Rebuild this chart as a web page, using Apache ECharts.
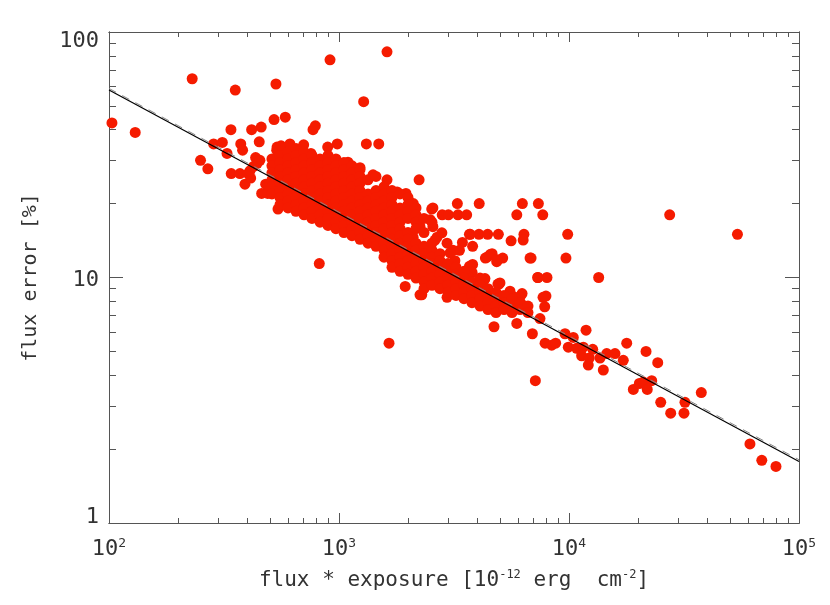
<!DOCTYPE html>
<html>
<head>
<meta charset="utf-8">
<title>flux error</title>
<script src="https://cdn.jsdelivr.net/npm/echarts@6/dist/echarts.min.js"></script>
<style>
    html, body {margin: 0; padding: 0; background: #fff;}
    #chartDiv {width: 830px; height: 605px;}
</style>
</head>
<body>
<div id="chartDiv"></div>
<script>
// 刻度
var xTickValues = [100, 1000, 10000, 100000];
var xMinorValues = [200, 300, 400, 500, 600, 700, 800, 900,
    2000, 3000, 4000, 5000, 6000, 7000, 8000, 9000,
    20000, 30000, 40000, 50000, 60000, 70000, 80000, 90000];
var yTickValues = [1, 10, 100];
var yMinorValues = [2, 3, 4, 5, 6, 7, 8, 9, 20, 30, 40, 50, 60, 70, 80, 90];

// 拟合线 (flux*exposure, flux error)
var fitFlux = [100, 100000];
var fitError = [58.0, 1.78];
var fitErrorDashed = [58.9, 1.81];

// 左上方零散的源 [flux*exposure, error %]
var leftPoints = [
    [103, 42.6], [130, 39], [230, 64.5], [354, 58], [532, 61.4], [914, 77], [1617, 83], [1280, 52],
    [522, 44], [584, 45], [339, 40], [417, 40], [459, 41], [771, 40], [789, 41.5],
    [285, 35], [311, 35.5], [326, 32], [374, 35], [381, 33], [450, 35.7],
    [250, 30], [269, 27.7], [340, 26.5], [371, 26.5], [403, 26.5], [390, 24],
    [434, 30.8], [441, 29.2], [453, 30], [424, 28.3], [413, 25.4], [410, 27.2],
    [461, 22], [480, 24], [490, 22], [495, 23.6], [543, 19], [536, 33], [536, 28.3], [538, 34],
    [560, 34.4], [612, 35], [702, 34.7], [893, 34], [983, 35], [1315, 35], [1489, 35],
    [644, 32], [755, 32], [1234, 28], [1094, 29.5], [1406, 26.2], [1617, 25], [1790, 22.3],
    [1955, 22], [2104, 20], [2230, 25],
    [821, 11.4], [1650, 5.4], [1940, 9.2], [2250, 8.5]
];

// 右侧的源
var tailPoints = [
    [2530, 19], [3270, 20], [4070, 20], [6270, 20], [7360, 20],
    [2810, 18], [2990, 18], [3290, 18], [3590, 18], [5930, 18], [7690, 18], [27400, 18], [54000, 15],
    [9870, 15], [3690, 15], [4060, 15], [4430, 15], [4930, 15], [6370, 15], [6320, 14.2], [5600, 14.1],
    [3440, 13.9], [3810, 13.4], [3340, 12.9], [3190, 11.7], [4330, 12], [4540, 12.4], [4850, 11.6],
    [5150, 12], [6770, 12], [9700, 12],
    [3690, 11.1], [3810, 11.3], [3680, 10.2], [4280, 9.8], [7310, 10], [8020, 10], [13460, 10], [4960, 9.4],
    [6250, 8.6], [7940, 8.4], [2290, 8.5], [5760, 8.2],
    [2560, 19.2], [2800, 15.2], [2670, 14.6], [3130, 12.9], [2950, 13.8], [3040, 12.6], [4400, 12.1],
    [4630, 12.5], [4860, 11.8], [6840, 12.0], [3750, 11.1], [3790, 10.5], [3640, 10.1], [4310, 9.9],
    [5010, 9.5], [5540, 8.8], [7330, 10], [6120, 8.3], [6310, 7.7], [7710, 8.3], [2950, 8.3], [2615, 14.2],
    [3720, 15], [2100, 14.6], [2250, 16.1], [2490, 17.2], [2560, 16.1], [3360, 9.8], [4910, 9.4], [5820, 8.3],
    [7840, 7.6], [7480, 6.8], [4720, 6.3], [5930, 6.5], [6930, 5.9], [7870, 5.4], [8410, 5.3], [8750, 5.4],
    [7140, 3.8],
    [9610, 5.9], [10440, 5.7], [11860, 6.1], [9930, 5.2], [10800, 5.15], [11540, 5.2], [11350, 4.8],
    [12250, 4.7], [12130, 4.4], [12680, 5.1], [13640, 4.7], [14100, 4.2], [14590, 4.9], [15850, 4.9],
    [17220, 4.6], [17820, 5.4], [21620, 5.0], [24310, 4.5], [19040, 3.5], [20220, 3.7], [21040, 3.75],
    [22890, 3.8], [21890, 3.5], [25050, 3.1], [27680, 2.8], [31620, 2.8], [31930, 3.1], [37600, 3.4],
    [61200, 2.1], [68900, 1.8], [79400, 1.7]
];

// 密集区: 每一列的 flux*exposure 和该列上各源的 error
var blobFlux = [511, 554, 600, 650, 705, 763, 827, 896, 970, 1051, 1139, 1234, 1337, 1448, 1569, 1700,
    1842, 1995, 2162, 2342, 2537, 2749, 2978, 3226, 3495, 3787, 4102, 4444, 4815, 5217, 5652, 6123, 6633];
var blobError = [
    [30.4, 28.5, 26.7, 25.0, 23.4, 21.9],
    [31.4, 29.4, 27.5, 25.8, 24.2, 22.6, 21.2, 19.8],
    [32.4, 30.4, 28.5, 26.7, 25.0, 23.4, 21.9, 20.5, 19.2],
    [33.5, 31.4, 29.4, 27.5, 25.8, 24.2, 22.6, 21.2, 19.8, 18.6],
    [32.4, 30.4, 28.5, 26.7, 25.0, 23.4, 21.9, 20.5, 19.2, 18.0],
    [31.4, 29.4, 27.5, 25.8, 24.2, 22.6, 21.2, 19.8, 18.6, 17.4],
    [30.4, 28.5, 26.7, 25.0, 23.4, 21.9, 20.5, 19.2, 18.0, 16.8],
    [31.4, 29.4, 27.5, 25.8, 24.2, 22.6, 21.2, 19.8, 18.6, 17.4, 16.3],
    [30.4, 28.5, 26.7, 25.0, 23.4, 21.9, 20.5, 19.2, 18.0, 16.8, 15.8],
    [29.4, 27.5, 25.8, 24.2, 22.6, 21.2, 19.8, 18.6, 17.4, 16.3, 15.25],
    [28.5, 26.7, 25.0, 23.4, 21.9, 20.5, 19.2, 18.0, 16.8, 15.8, 14.8],
    [27.5, 25.8, 24.2, 22.6, 21.2, 19.8, 18.6, 17.4, 16.3, 15.25, 14.3],
    [25.0, 21.9, 20.5, 19.2, 18.0, 16.8, 15.8, 14.8, 13.8],
    [25.8, 22.6, 21.2, 19.8, 18.6, 17.4, 16.3, 15.25, 14.3, 13.4],
    [23.4, 21.9, 20.5, 19.2, 18.0, 16.8, 15.8, 14.8, 13.8, 12.9, 12.1],
    [22.6, 21.2, 19.8, 18.6, 17.4, 16.3, 15.25, 14.3, 13.4, 12.5, 11.7, 11.0],
    [21.9, 19.2, 18.0, 16.8, 15.8, 14.8, 13.8, 12.9, 12.1, 11.4, 10.6],
    [21.2, 19.8, 18.6, 17.4, 15.25, 14.3, 13.4, 12.5, 11.7, 11.0, 10.3],
    [19.2, 18.0, 16.8, 15.8, 13.8, 12.9, 12.1, 11.4, 10.6, 9.95],
    [17.4, 15.25, 13.4, 12.5, 11.7, 11.0, 10.3, 9.6, 9.0],
    [16.8, 13.8, 12.9, 12.1, 11.4, 10.6, 9.95, 9.3],
    [12.5, 11.7, 11.0, 10.3, 9.6, 9.0],
    [11.4, 10.6, 9.95, 9.3, 8.7],
    [11.0, 10.3, 9.6, 9.0, 8.45],
    [10.6, 9.95, 9.3, 8.7, 8.2],
    [9.6, 9.0, 8.45, 7.9],
    [9.95, 9.3, 8.7, 8.2, 7.65],
    [9.0, 8.45, 7.9, 7.4],
    [8.7, 8.2, 7.65, 7.2],
    [8.45, 7.9, 7.4],
    [8.2, 7.65, 7.2],
    [7.9, 7.4],
    [7.65, 7.2]
];

var axisColor = '#555';
var textColor = '#333';
var fontName = 'DejaVu Sans Mono';

function buildSources() {
    var list = leftPoints.concat(tailPoints);
    for (var i = 0; i < blobFlux.length; i++) {
        for (var j = 0; j < blobError[i].length; j++) {
            list.push([blobFlux[i], blobError[i][j]]);
        }
    }
    return list;
}

function buildFit(errors) {
    var list = [];
    for (var i = 0; i < fitFlux.length; i++) {
        list.push([fitFlux[i], errors[i]]);
    }
    return list;
}

/*
* 坐标轴: 主刻度和次刻度分开画, 四边都有
* */
function buildAxis(kind, position, values, len, withLabel) {
    var axis = {
        type: 'log',
        logBase: 10,
        position: position,
        min: kind === 'x' ? 100 : 1,
        max: kind === 'x' ? 100000 : 100,
        axisLine: {show: true, onZero: false, lineStyle: {color: axisColor, width: 1}},
        axisTick: {show: true, inside: true, length: len, customValues: values,
            lineStyle: {color: axisColor, width: 1}},
        axisLabel: {show: false},
        splitLine: {show: false},
        minorTick: {show: false}
    };
    if (withLabel && kind === 'x') {
        axis.axisLabel = {
            show: true,
            customValues: values,
            margin: 14,
            formatter: function (v) {
                return '{b|10}{s|' + Math.round(Math.log10(v)) + '}';
            },
            rich: {
                b: {fontFamily: fontName, fontSize: 22, color: textColor},
                s: {fontFamily: fontName, fontSize: 13, color: textColor, padding: [0, 0, 12, 0]}
            }
        };
        axis.name = 'flux * exposure [10{s|-12} erg  cm{s|-2}]';
        axis.nameLocation = 'middle';
        axis.nameGap = 46;
        axis.nameTextStyle = {
            fontFamily: fontName, fontSize: 21, color: textColor,
            rich: {
                s: {fontFamily: fontName, fontSize: 12, color: textColor, padding: [0, 0, 12, 0]}
            }
        };
    }
    if (withLabel && kind === 'y') {
        axis.axisLabel = {
            show: true,
            customValues: values,
            margin: 10,
            formatter: function (v) {
                if (v === 100) return '{hi|100}';
                if (v === 1) return '{lo|1}';
                return '{mid|' + v + '}';
            },
            rich: {
                hi: {fontFamily: fontName, fontSize: 22, color: textColor, padding: [18, 0, 0, 0]},
                mid: {fontFamily: fontName, fontSize: 22, color: textColor, padding: [6, 0, 0, 0]},
                lo: {fontFamily: fontName, fontSize: 22, color: textColor, padding: [0, 0, 12, 0]}
            }
        };
        axis.name = 'flux error [%]';
        axis.nameLocation = 'middle';
        axis.nameGap = 68;
        axis.nameTextStyle = {fontFamily: fontName, fontSize: 20, color: textColor};
    }
    return axis;
}

var chartDiv = echarts.init(document.getElementById('chartDiv'));

var option = {
    animation: false,
    backgroundColor: '#fff',
    grid: {left: 109, right: 31, top: 32, bottom: 82},
    xAxis: [
        buildAxis('x', 'bottom', xTickValues, 10, true),
        buildAxis('x', 'top', xTickValues, 10, false),
        buildAxis('x', 'bottom', xMinorValues, 5, false),
        buildAxis('x', 'top', xMinorValues, 5, false)
    ],
    yAxis: [
        buildAxis('y', 'left', yTickValues, 14, true),
        buildAxis('y', 'right', yTickValues, 14, false),
        buildAxis('y', 'left', yMinorValues, 7, false),
        buildAxis('y', 'right', yMinorValues, 7, false)
    ],
    series: [
        {
            type: 'scatter',
            name: 'sources',
            xAxisIndex: 0,
            yAxisIndex: 0,
            data: buildSources(),
            symbol: 'circle',
            symbolSize: 11,
            itemStyle: {color: '#f51b00', opacity: 1},
            clip: true,
            z: 2
        },
        {
            type: 'line',
            name: 'fit dashed',
            xAxisIndex: 0,
            yAxisIndex: 0,
            data: buildFit(fitErrorDashed),
            showSymbol: false,
            symbol: 'none',
            lineStyle: {color: '#888', width: 1, type: [8, 7]},
            z: 3
        },
        {
            type: 'line',
            name: 'fit',
            xAxisIndex: 0,
            yAxisIndex: 0,
            data: buildFit(fitError),
            showSymbol: false,
            symbol: 'none',
            lineStyle: {color: '#000', width: 1.2},
            z: 4
        }
    ]
};
chartDiv.setOption(option);
</script>
</body>
</html>
